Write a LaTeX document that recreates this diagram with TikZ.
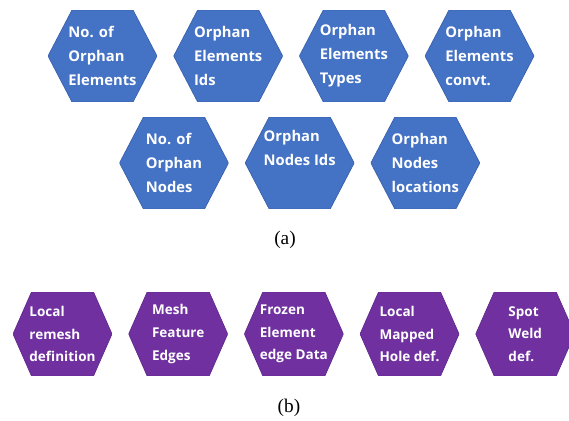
\documentclass[tikz,border=0pt]{standalone}
\usepackage{fontspec}
\setmainfont{Liberation Serif}
\setsansfont{Open Sans}
\usepackage{tikz}
\usetikzlibrary{positioning}

\definecolor{hexblue}{HTML}{4472C4}
\definecolor{hexblueline}{HTML}{3A62AC}
\definecolor{hexpurple}{HTML}{7030A0}
\definecolor{hexpurpleline}{HTML}{632A8E}

\tikzset{
  hexa/.style n args={4}{minimum width=#1, minimum height=#2, inner sep=0pt,
    align=left, text=white,
    path picture={\filldraw[#4]
      ([xshift=#3]path picture bounding box.north west)
      -- ([xshift=-#3]path picture bounding box.north east)
      -- (path picture bounding box.east)
      -- ([xshift=-#3]path picture bounding box.south east)
      -- ([xshift=#3]path picture bounding box.south west)
      -- (path picture bounding box.west) -- cycle;}},
  bluehex/.style={hexa={2.18cm}{1.84cm}{0.48cm}{fill=hexblue, draw=hexblueline},
    font=\sffamily\bfseries\fontsize{8.4}{13.6}\selectfont},
  purplehex/.style={hexa={1.98cm}{1.68cm}{0.37cm}{fill=hexpurple, draw=hexpurpleline},
    font=\sffamily\bfseries\fontsize{7.7}{12.9}\selectfont},
  caption/.style={font=\fontsize{11}{13}\selectfont}
}

\begin{document}
\begin{tikzpicture}[x=0.02cm, y=-0.02cm]
  \useasboundingbox (0,0) rectangle (569,421);
  % (a) orphan data
  \node[bluehex] (e1) at (102.5,56) {No. of\\Orphan\\Elements};
  \node[bluehex, right=0.32cm of e1] (e2) {Orphan\\Elements\\Ids};
  \node[bluehex, right=0.32cm of e2] (e3) {Orphan\\Elements\\Types};
  \node[bluehex, right=0.32cm of e3] (e4) {Orphan\\Elements\\convt.};
  \node[bluehex] (n1) at (174,163) {No. of\\Orphan\\Nodes};
  \node[bluehex, right=0.32cm of n1] (n2) {Orphan\\Nodes Ids\\ \strut};
  \node[bluehex, right=0.32cm of n2] (n3) {Orphan\\Nodes\\locations};
  \node[caption] (lbla) at (285,240) {(a)};
  % (b) mesh data
  \node[purplehex] (p1) at (62.5,334) {Local\\remesh\\definition};
  \node[purplehex, right=0.32cm of p1] (p2) {Mesh\\Feature\\Edges};
  \node[purplehex, right=0.32cm of p2] (p3) {Frozen\\Element\\edge Data};
  \node[purplehex, right=0.32cm of p3] (p4) {Local\\Mapped\\Hole def.};
  \node[purplehex, right=0.32cm of p4] (p5) {Spot\\Weld\\def.};
  \node[caption] (lblb) at (289,408) {(b)};
\end{tikzpicture}
\end{document}
